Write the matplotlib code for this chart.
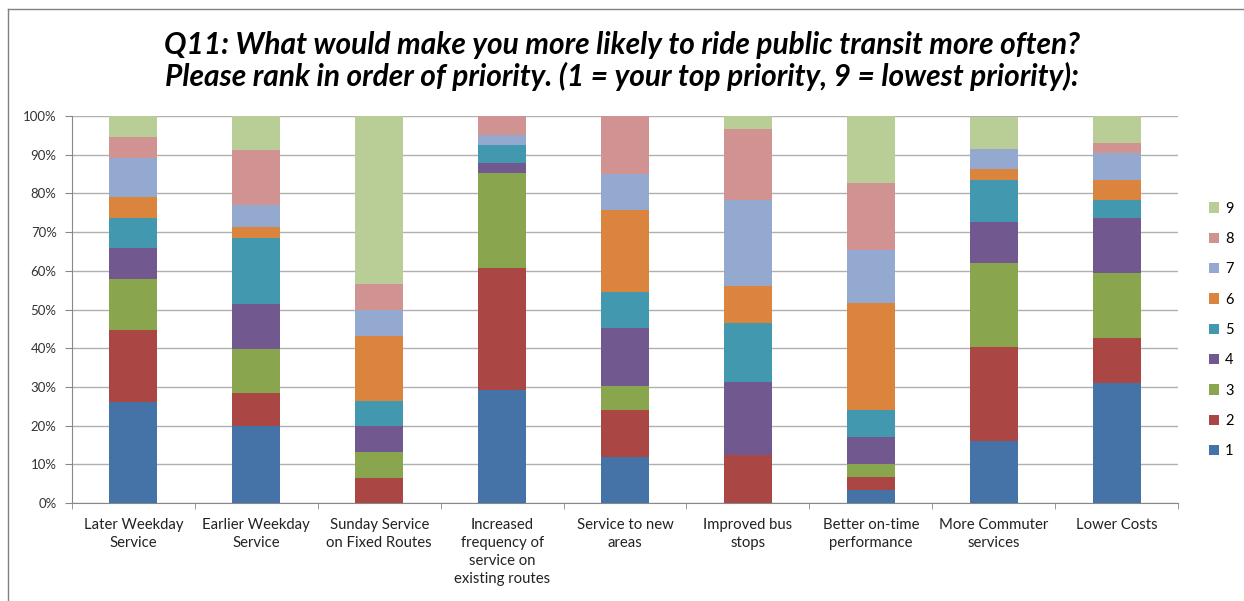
import numpy as np
import matplotlib
matplotlib.use('Agg')
import matplotlib.pyplot as plt
from matplotlib.lines import Line2D

# categories and share (%) of each priority rank
categories = ['Later Weekday\nService', 'Earlier Weekday\nService', 'Sunday Service\non Fixed Routes',
              'Increased\nfrequency of\nservice on\nexisting routes', 'Service to new\nareas',
              'Improved bus\nstops', 'Better on-time\nperformance', 'More Commuter\nservices', 'Lower Costs']
ranks = ['1', '2', '3', '4', '5', '6', '7', '8', '9']

rank1 = [26.1, 19.8, 0.0, 29.3, 11.9, 0.0, 3.4, 15.9, 30.9]
rank2 = [18.6, 8.6, 6.5, 31.5, 12.1, 12.5, 3.3, 24.3, 11.8]
rank3 = [13.1, 11.3, 6.7, 24.4, 6.2, 0.0, 3.5, 21.9, 16.8]
rank4 = [8.1, 11.6, 6.6, 2.6, 15.1, 18.8, 6.9, 10.4, 14.2]
rank5 = [7.8, 17.1, 6.6, 4.7, 9.3, 15.1, 7.0, 10.9, 4.6]
rank6 = [5.3, 3.0, 16.8, 0.0, 21.1, 9.7, 27.6, 2.9, 5.1]
rank7 = [10.2, 5.6, 6.6, 2.6, 9.3, 22.3, 13.8, 5.1, 7.1]
rank8 = [5.3, 14.2, 6.7, 4.9, 15.0, 18.3, 17.1, 0.0, 2.4]
rank9 = [5.5, 8.8, 43.5, 0.0, 0.0, 3.4, 17.4, 8.4, 7.1]

series = [rank1, rank2, rank3, rank4, rank5, rank6, rank7, rank8, rank9]
colors = ['#4572A7', '#AA4643', '#89A54E', '#71588F', '#4198AF',
          '#DB843D', '#93A9CF', '#D19392', '#B9CD96']

title = ('Q11: What would make you more likely to ride public transit more often?\n'
         'Please rank in order of priority. (1 = your top priority, 9 = lowest priority):')

plt.rcParams['font.family'] = ['Lato', 'DejaVu Sans']

fig = plt.figure(figsize=(12.44, 6.01), dpi=100)
ax = fig.add_axes([72/1244, 1-503/601, (1178-72)/1244, (503-116)/601])

x = np.arange(len(categories))
bottom = np.zeros(len(categories))
handles = []
for vals, col, lab in zip(series, colors, ranks):
    vals = np.array(vals)
    b = ax.bar(x, vals, 0.39, bottom=bottom, color=col, label=lab, zorder=3)
    handles.append(b)
    bottom += vals

ax.set_xlim(-0.5, len(categories) - 0.5)
ax.set_ylim(0, 100)
ax.set_yticks(np.arange(0, 101, 10))
ax.set_yticklabels(['%d%%' % v for v in range(0, 101, 10)], fontsize=9.5, color='#333333')
ax.yaxis.grid(True, color='#b0b0b0', lw=1, zorder=0)
ax.set_xticks(x)
ax.set_xticklabels(categories, fontsize=10.7, linespacing=1.35, color='#222222')
ax.set_xticks(np.arange(-0.5, len(categories)), minor=True)
ax.tick_params(axis='x', which='major', length=0, pad=11)
ax.tick_params(axis='x', which='minor', length=4, color='#888888')
ax.tick_params(axis='y', length=5, color='#888888', pad=6)
for s in ['top', 'right']:
    ax.spines[s].set_visible(False)
for s in ['left', 'bottom']:
    ax.spines[s].set_color('#888888')

fig.text(0.5, 1-61/601, title, ha='center', va='center', fontsize=21.5,
         fontweight='bold', style='italic', linespacing=1.15)

fig.legend(handles[::-1], ranks[::-1], loc='center left', bbox_to_anchor=(1196/1244, 1-330/601),
           frameon=False, fontsize=10.5, handlelength=0.7, handleheight=0.7,
           handletextpad=0.4, labelspacing=1.12)

# chart border (only left/top edges visible in the crop)
fig.add_artist(Line2D([8/1244, 8/1244], [0, 1-9/601], color='#808080', lw=1, transform=fig.transFigure))
fig.add_artist(Line2D([8/1244, 1], [1-9/601, 1-9/601], color='#808080', lw=1, transform=fig.transFigure))

plt.savefig('out.png', dpi=100)
plt.close()
